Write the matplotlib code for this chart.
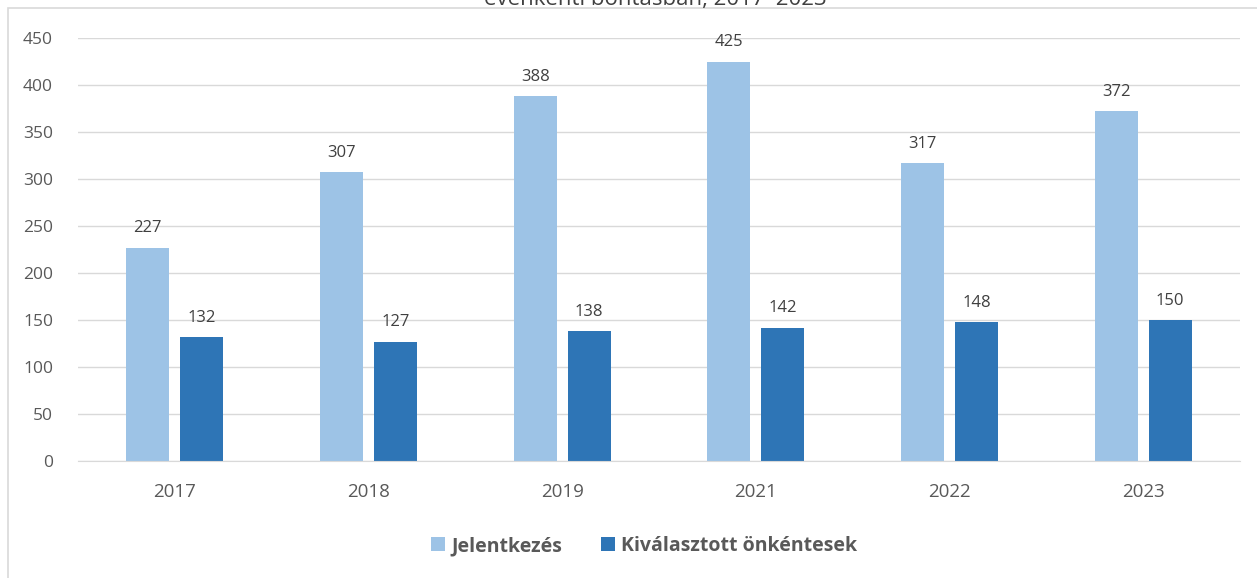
import numpy as np
import matplotlib.pyplot as plt
from matplotlib.patches import Rectangle

# Adatok
evek = ['2017', '2018', '2019', '2021', '2022', '2023']
jelentkezes = [227, 307, 388, 425, 317, 372]
kivalasztott = [132, 127, 138, 142, 148, 150]

szin_vilagos = '#9dc3e6'
szin_sotet = '#2e75b6'
szurke = '#595959'

plt.rcParams['font.family'] = ['Open Sans', 'DejaVu Sans']

fig = plt.figure(figsize=(12.57, 5.78), dpi=100)
ax = fig.add_axes([78 / 1257, 1 - 461 / 578, (1240 - 78) / 1257, (461 - 38) / 578])

x = np.arange(len(evek))
w = 0.222
gap = 0.057
b1 = ax.bar(x - (w + gap) / 2, jelentkezes, w, color=szin_vilagos, label='Jelentkezés')
b2 = ax.bar(x + (w + gap) / 2, kivalasztott, w, color=szin_sotet, label='Kiválasztott önkéntesek')

for bars, vals in [(b1, jelentkezes), (b2, kivalasztott)]:
    for r, v in zip(bars, vals):
        ax.text(r.get_x() + r.get_width() / 2, v + 12, str(v), ha='center', va='bottom',
                fontsize=12, color='#404040')

ax.set_xlim(-0.5, len(evek) - 0.5)
ax.set_ylim(0, 450)
ax.set_yticks(range(0, 451, 50))
ax.set_xticks(x)
ax.set_xticklabels(evek)
ax.yaxis.grid(True, color='#d9d9d9', linewidth=1)
ax.set_axisbelow(True)
for s in ['top', 'right', 'left']:
    ax.spines[s].set_visible(False)
ax.spines['bottom'].set_color('#d9d9d9')
ax.tick_params(axis='y', length=0, labelsize=12.5, labelcolor=szurke, pad=18)
ax.tick_params(axis='x', length=0, labelsize=13.5, labelcolor=szurke, pad=16)

# Keret
fig.patches.append(Rectangle((8 / 1257, -0.01), 1.1, 1 - 8 / 578 + 0.01, transform=fig.transFigure,
                             fill=False, edgecolor='#d9d9d9', linewidth=1.2))

# Levágott cím
fig.text(655 / 1257, 1 - 0 / 578, 'évenkénti bontásban, 2017–2023', ha='center', va='center',
         fontsize=16, color='#404040')

leg = fig.legend(loc='center', bbox_to_anchor=(644 / 1257, 1 - 546 / 578), ncol=2, frameon=False,
                 handlelength=0.75, handleheight=0.75, handletextpad=0.3, columnspacing=2.0,
                 prop={'size': 14, 'weight': 'bold'})
for t in leg.get_texts():
    t.set_color(szurke)

fig.savefig('out.png', dpi=100)
